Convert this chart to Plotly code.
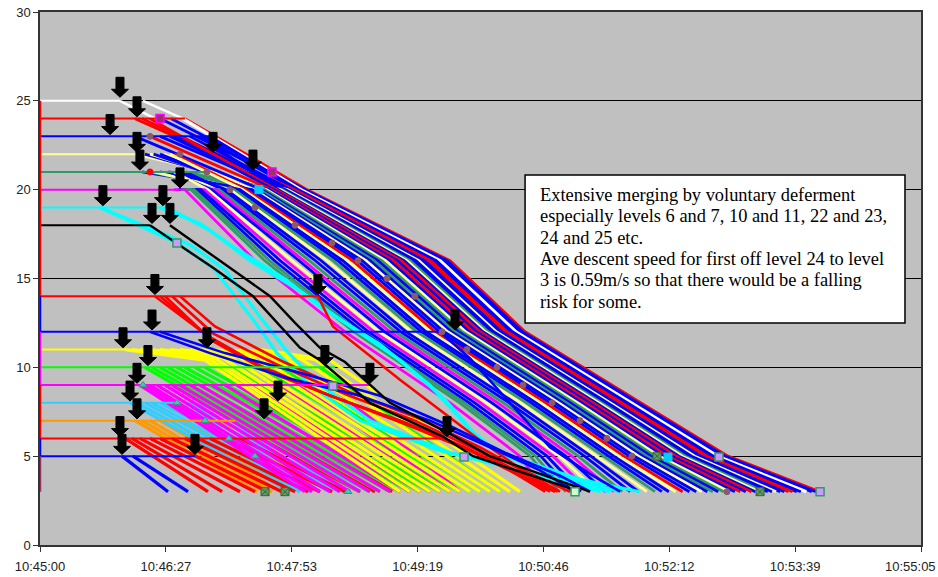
import plotly.graph_objects as go

# ---------------------------------------------------------------------------
# Axis ticks (x values are seconds after 10:45:00)
# ---------------------------------------------------------------------------
TICK_SECONDS = [0, 86.4, 172.8, 259.2, 345.6, 432.0, 518.4, 604.8]
TICK_LABELS = ["10:45:00", "10:46:27", "10:47:53", "10:49:19",
               "10:50:46", "10:52:12", "10:53:39", "10:55:05"]

BLUE = "#0000FF"
RED = "#FF0000"
WHITE = "#FFFFFF"
YELLOW = "#FFFF00"
LIGHTYELLOW = "#FFFF99"
SEAGREEN = "#339966"
MAGENTA = "#FF00FF"
CYAN = "#00FFFF"
LIME = "#00FF00"
SKY = "#33CCFF"
ORANGE = "#FF9900"
BLACK = "#000000"
PLUM = "#993366"

# ---------------------------------------------------------------------------
# Waiting (hold) lines at each level: level, colour, last departure time (s)
# ---------------------------------------------------------------------------
HOLD_LEVELS = [25, 24, 23, 22, 21, 20, 19, 18, 14, 12, 11, 10, 9, 8, 7, 6, 5]
HOLD_COLORS = [WHITE, RED, BLUE, LIGHTYELLOW, SEAGREEN, MAGENTA, CYAN, BLACK,
               RED, BLUE, YELLOW, LIME, MAGENTA, SKY, ORANGE, RED, BLUE]
HOLD_END = [54.9, 99.5, 116.7, 65.2, 114.6, 100.9, 87.2, 75.5,
            190.8, 274.6, 58.4, 202.5, 226.5, 94.0, 133.9, 274.6, 106.4]

# Series starting points stacked on the time-zero edge
EDGE_TOP = [25, 14, 12, 9, 6, 5]
EDGE_BOTTOM = [14, 12, 9, 6, 5, 3]
EDGE_COLORS = [RED, BLUE, MAGENTA, RED, BLUE, PLUM]

# Level 25 leavers stepping down to the level 24 landing
WHITE_LEAD_T = [[54.9, 79.0], [70.7, 98.1]]
WHITE_LEAD_L = [[25, 24], [25, 24]]

# ---------------------------------------------------------------------------
# Upper stream (levels 20-25): time passing levels 20, 16, 12, 8, 5, 3
# ---------------------------------------------------------------------------
UPPER_LEVELS = [20, 16, 12, 8, 5, 3]
UPPER_COLORS = [
    RED, BLUE, BLUE, WHITE, BLUE, BLUE, RED, RED, BLUE, BLUE,
    LIGHTYELLOW, BLUE, BLUE, SEAGREEN, LIGHTYELLOW, BLUE, RED, BLUE, RED,
    BLUE, LIGHTYELLOW, SEAGREEN, BLUE, SEAGREEN, BLUE, LIGHTYELLOW, BLUE,
    BLUE, RED, LIGHTYELLOW, BLUE, BLUE, SEAGREEN, LIGHTYELLOW, BLUE, BLUE,
    SEAGREEN, MAGENTA, BLUE, LIGHTYELLOW, MAGENTA, BLUE, BLUE, SEAGREEN,
    SEAGREEN, MAGENTA,
]
UPPER_START_LEVEL = [
    24, 24, 24, 24, 23, 23, 24, 24, 23, 23,
    22, 23, 23, 21, 22, 23, 24, 23, 23,
    22, 22, 21, 23, 21, 22, 22, 21,
    22, 22, 22, 21, 21, 21, 21, 21, 21,
    20, 20, 21, 21, 20, 20, 20, 20,
    20, 20,
]
UPPER_START_TIME = [
    99.5, 90.0, 82.4, 98.1, 116.7, 110.0, 65.2, 70.0, 103.0, 96.1,
    65.2, 82.4, 89.2, 114.6, 70.0, 110.0, 75.5, 92.0, 75.5,
    72.0, 75.5, 100.0, 65.2, 92.7, 78.0, 85.0, 70.0,
    82.4, 92.0, 89.2, 82.4, 88.0, 75.5, 78.0, 96.1, 100.0,
    96.0, 100.9, 89.2, 92.0, 92.0, 98.0, 95.0, 97.0,
    99.0, 99.5,
]
UPPER_TIMES = [
    [183.3, 281.5, 333.0, 412.6, 472.3, 535.5],
    [182.0, 279.5, 331.1, 410.6, 470.2, 532.6],
    [180.8, 277.5, 329.3, 408.7, 468.0, 529.8],
    [179.1, 274.8, 326.8, 406.0, 465.2, 526.1],
    [177.4, 272.1, 324.3, 403.4, 462.3, 522.3],
    [176.2, 270.1, 322.5, 401.5, 460.2, 519.5],
    [174.9, 268.1, 320.6, 399.5, 458.0, 516.6],
    [173.7, 266.1, 318.8, 397.5, 455.9, 513.8],
    [172.4, 264.1, 316.9, 395.6, 453.7, 511.0],
    [171.1, 262.1, 315.1, 393.6, 451.6, 508.1],
    [169.9, 260.1, 313.2, 391.6, 449.5, 505.3],
    [168.6, 258.1, 311.4, 389.7, 447.3, 502.5],
    [167.4, 256.1, 309.5, 387.7, 445.2, 499.6],
    [166.1, 254.1, 307.7, 385.7, 443.0, 496.8],
    [164.9, 252.0, 305.8, 383.8, 440.9, 494.0],
    [163.6, 250.0, 304.0, 381.8, 438.7, 491.1],
    [162.4, 248.0, 302.1, 379.8, 436.6, 488.3],
    [160.7, 245.4, 299.6, 377.2, 433.7, 484.5],
    [159.0, 242.7, 297.2, 374.6, 430.9, 480.8],
    [157.3, 240.0, 294.7, 372.0, 428.0, 477.0],
    [155.6, 237.3, 292.2, 369.3, 425.2, 473.2],
    [154.0, 234.6, 289.7, 366.7, 422.3, 469.4],
    [152.3, 232.0, 287.3, 364.1, 419.5, 465.6],
    [150.6, 229.3, 284.8, 361.5, 416.6, 461.9],
    [148.9, 226.6, 282.3, 358.9, 413.8, 458.1],
    [147.3, 223.9, 279.9, 356.2, 410.9, 454.3],
    [145.6, 221.2, 277.4, 353.6, 408.0, 450.5],
    [143.5, 217.9, 274.3, 350.3, 404.5, 445.8],
    [141.4, 214.6, 271.2, 347.1, 400.9, 441.1],
    [139.3, 211.2, 268.1, 343.8, 397.3, 436.4],
    [137.2, 207.9, 265.0, 340.5, 393.8, 431.7],
    [135.1, 204.5, 261.9, 337.2, 390.2, 426.9],
    [133.0, 201.2, 258.8, 333.9, 386.6, 422.2],
    [130.5, 197.1, 255.1, 330.0, 382.3, 416.6],
    [128.0, 193.1, 251.4, 326.1, 378.1, 410.9],
    [125.5, 189.1, 247.7, 322.1, 373.8, 405.2],
    [123.0, 185.1, 244.0, 318.2, 369.5, 399.6],
    [120.5, 181.1, 240.3, 314.3, 365.2, 393.9],
    [117.9, 177.9, 236.6, 310.3, 360.9, 388.2],
    [115.4, 173.0, 232.9, 306.4, 356.6, 382.6],
    [112.9, 169.0, 229.2, 302.5, 352.3, 376.9],
    [110.4, 165.0, 225.5, 298.5, 348.1, 371.2],
    [107.9, 161.0, 221.8, 294.6, 343.8, 365.6],
    [105.8, 157.6, 218.7, 291.3, 340.2, 360.9],
    [103.7, 154.3, 215.6, 288.1, 336.6, 356.1],
    [99.5, 147.6, 209.4, 281.5, 329.5, 346.7],
]

# ---------------------------------------------------------------------------
# Middle stream: levels 18/19 (black, cyan), 14 (red), 12 (blue)
# ---------------------------------------------------------------------------
BLACK_T = [[75.5, 118.8, 146.2, 162.7, 178.5, 192.2, 226.5, 276.7, 297.3, 370.7],
           [89.2, 130.4, 157.9, 175.1, 192.2, 209.4, 240.3, 284.9, 308.9, 377.6]]
BLACK_L = [[18.0, 15.6, 14.0, 12.5, 11.1, 10.4, 8.0, 6.1, 5.0, 3.0],
           [18.0, 15.6, 14.0, 12.5, 11.1, 10.3, 8.0, 6.1, 5.0, 3.0]]

CYAN_T = [[41.2, 94.0, 118.8, 146.2, 162.7, 185.4, 219.7, 274.6, 329.5, 384.4],
          [41.2, 103.0, 127.0, 152.4, 169.6, 192.2, 226.5, 281.5, 336.4, 391.3],
          [82.4, 109.8, 132.5, 169.6, 192.2, 233.4, 267.7, 295.2, 315.8, 357.0, 398.2],
          [87.2, 116.7, 144.2, 178.5, 205.9, 247.1, 278.0, 302.0, 322.6, 370.7, 411.9]]
CYAN_L = [[19.0, 17.0, 15.6, 12.7, 10.8, 9.0, 7.0, 5.3, 4.2, 3.0],
          [19.0, 16.9, 15.5, 12.7, 10.9, 9.0, 7.0, 5.2, 4.1, 3.0],
          [19.0, 18.1, 16.8, 14.9, 13.4, 11.3, 9.0, 6.5, 5.1, 3.9, 3.0],
          [19.0, 17.7, 16.0, 14.3, 12.7, 10.4, 8.2, 5.9, 5.0, 3.7, 3.0]]

RED14_T = [[78.9, 114.6, 151.0, 199.1, 247.1, 288.3, 322.6, 346.7],
           [82.4, 116.0, 154.5, 202.5, 250.5, 291.7, 326.0, 350.1],
           [85.8, 118.1, 157.9, 205.9, 254.0, 295.2, 329.5, 353.5],
           [90.6, 119.0, 161.4, 209.4, 257.4, 298.6, 331.2, 355.2],
           [96.1, 120.1, 164.8, 212.8, 260.9, 302.0, 332.9, 357.0],
           [190.8, 201.1, 247.1, 274.6, 302.0, 329.5, 363.8]]
RED14_L = [[14.0, 11.8, 10.1, 8.4, 7.0, 5.6, 4.2, 3.0],
           [14.0, 11.7, 9.9, 8.3, 6.9, 5.5, 4.1, 3.0],
           [14.0, 11.5, 9.7, 8.2, 6.7, 5.3, 3.9, 3.0],
           [14.0, 11.9, 10.2, 8.5, 7.0, 5.4, 4.0, 3.0],
           [14.0, 12.3, 10.4, 8.6, 7.1, 5.5, 4.1, 3.0],
           [14.0, 12.3, 9.3, 7.6, 5.9, 4.3, 3.0]]

BLUE12_T = [[75.5, 116.7, 169.6, 219.7, 267.7, 308.9, 343.2, 367.3],
            [82.4, 127.0, 178.5, 233.4, 281.5, 319.2, 357.0, 377.6],
            [274.6, 295.2, 322.6, 350.1, 377.6, 398.2]]
BLUE12_L = [[12.0, 10.8, 9.4, 8.4, 7.0, 5.5, 4.2, 3.0],
            [12.0, 10.8, 9.7, 8.4, 6.7, 5.2, 3.9, 3.0],
            [12.0, 10.5, 8.0, 5.5, 4.0, 3.0]]

# ---------------------------------------------------------------------------
# Lower stream (levels 5-10): departure time at the level, arrival at level 3
# (listed in drawing order: later entries are drawn on top)
# ---------------------------------------------------------------------------
FAN_LEVELS = [7, 8, 6, 5, 10, 9]
FAN_COLORS = [ORANGE, SKY, RED, BLUE, LIME, MAGENTA]
FAN_START = [
    [65.2, 70.0, 75.5, 82.4, 89.2, 99.5, 109.8, 122.2, 133.9],
    [61.8, 66.6, 72.1, 76.9, 82.4, 87.9, 94.0, 101.6, 109.8],
    [58.4, 63.1, 68.6, 75.5, 82.4, 90.6, 99.5, 108.5, 116.7, 127.0, 137.3,
     151.0, 164.8, 181.9, 199.1],
    [56.3, 63.8],
    [72.1, 76.9, 82.4, 87.9, 94.0, 99.5, 106.4, 113.3, 121.5, 130.4, 140.7,
     151.0, 164.8, 178.5, 192.2],
    [68.6, 72.1, 75.5, 80.3, 85.8, 90.6, 96.1, 103.0, 109.8, 118.1, 127.0,
     135.2, 144.2, 154.5, 164.8, 178.5, 199.1],
]
FAN_END = [
    [149.0, 154.5, 159.3, 165.5, 171.6, 178.5, 185.4, 192.2, 199.1],
    [171.6, 178.5, 185.4, 192.2, 199.1, 205.9, 212.8, 219.7, 226.5],
    [115.3, 125.0, 137.3, 147.6, 156.5, 166.1, 175.1, 184.0, 192.2, 200.5,
     209.4, 219.7, 230.0, 241.7, 254.0],
    [87.9, 101.6],
    [219.7, 226.5, 233.4, 240.3, 247.1, 254.0, 260.9, 267.7, 274.6, 281.5,
     288.3, 295.2, 302.0, 308.9, 315.8],
    [181.9, 186.8, 192.2, 199.1, 205.9, 212.8, 219.7, 226.5, 233.4, 240.3,
     247.1, 254.0, 260.9, 267.7, 274.6, 281.5, 288.3],
]

# Level 11 (yellow): slow start along the landing, then the descent
YELLOW_T = [[58.4, 113.3, 247.1], [63.1, 116.7, 254.0], [68.6, 120.1, 260.9],
            [75.5, 124.9, 267.7], [82.4, 130.4, 274.6], [89.2, 135.9, 281.5],
            [96.1, 144.2, 288.3], [103.0, 149.7, 295.2], [109.8, 157.9, 302.0],
            [118.1, 168.2, 308.9], [127.0, 178.5, 315.8], [137.3, 188.8, 322.6],
            [151.0, 199.1, 329.5]]
YELLOW_L = [[11, 10.4, 3], [11, 10.45, 3], [11, 10.5, 3], [11, 10.55, 3],
            [11, 10.6, 3], [11, 10.6, 3], [11, 10.6, 3], [11, 10.6, 3],
            [11, 10.6, 3], [11, 10.55, 3], [11, 10.5, 3], [11, 10.45, 3],
            [11, 10.4, 3]]

# ---------------------------------------------------------------------------
# Individual series markers
# ---------------------------------------------------------------------------
PLUM_T = [75.5, 96.1, 114.6, 130.4, 147.6, 175.1, 200.5, 218.3, 238.2, 257.4,
          276.0, 293.1, 313.7, 331.6, 351.5, 370.7, 389.2, 406.4, 471.6]
PLUM_L = [23, 22, 21, 20, 19, 18, 17, 16, 15, 14, 12, 11, 10, 9, 8, 7, 6, 5, 3]
LAVENDER_T = [94.0, 201.1, 291.1, 466.1, 535.5]
LAVENDER_L = [17.0, 8.95, 4.95, 4.95, 3.0]
PURPLE_SQ_T = [82.4, 159.3]
PURPLE_SQ_L = [24.0, 21.0]
CYAN_SQ_T = [150.3, 431.1]
CYAN_SQ_L = [20.0, 4.95]
XMARK_T = [154.5, 168.2, 423.6, 494.3]
XMARK_L = [3.0, 3.0, 5.0, 3.0]
PALE_SQ_T = [367.3]
PALE_SQ_L = [3.0]
TRI_T = [70.7, 94.0, 113.3, 129.7, 147.6, 211.4]
TRI_L = [9, 8, 7, 6, 5, 3]
RED_DOT_T = [75.5]
RED_DOT_L = [21]

# First-off / deferment arrows (tip position)
ARROW_T = [54.9, 66.6, 48.1, 66.6, 68.6, 118.8, 146.2, 96.1, 84.4, 43.2,
           76.9, 89.2, 78.9, 190.8, 76.9, 284.9, 57.0, 114.6, 74.1, 195.6,
           66.6, 226.5, 61.8, 163.4, 66.6, 153.8, 54.9, 279.4, 56.3, 106.4]
ARROW_L = [25.2, 24.1, 23.1, 22.1, 21.1, 22.1, 21.1, 20.1, 19.1, 19.1,
           18.1, 18.1, 14.1, 14.1, 12.1, 12.1, 11.1, 11.1, 10.1, 10.1,
           9.1, 9.1, 8.1, 8.1, 7.1, 7.1, 6.1, 6.1, 5.1, 5.1]

NOTE_LINES = [
    "Extensive merging by voluntary deferment",
    "especially levels 6 and 7, 10 and 11, 22 and 23,",
    "24 and 25 etc.",
    "Ave descent speed for first off level 24 to level",
    "3 is 0.59m/s so that there would be a falling",
    "risk for some.",
]
NOTE_LINE_Y = [19.70, 18.50, 17.30, 16.10, 14.90, 13.70]

fig = go.Figure()


def add_path(xs, ys, color, width):
    fig.add_trace(go.Scatter(x=xs, y=ys, mode="lines",
                             line=dict(color=color, width=width),
                             hoverinfo="skip"))


# lower stream
for lvl, col, starts, ends in zip(FAN_LEVELS, FAN_COLORS, FAN_START, FAN_END):
    for s, e in zip(starts, ends):
        add_path([s, e], [lvl, 3], col, 3.3)
for xs, ys in zip(YELLOW_T, YELLOW_L):
    add_path(xs, ys, YELLOW, 3.3)

# upper stream
for xs, ys in zip(WHITE_LEAD_T, WHITE_LEAD_L):
    add_path(xs, ys, WHITE, 2.4)
for col, sl, st, times in zip(UPPER_COLORS, UPPER_START_LEVEL,
                              UPPER_START_TIME, UPPER_TIMES):
    add_path([st] + times, [sl] + UPPER_LEVELS, col, 3.2 if col == WHITE else 2.8)

# middle stream
for xs, ys in zip(CYAN_T, CYAN_L):
    add_path(xs, ys, CYAN, 3.2)
for xs, ys in zip(RED14_T, RED14_L):
    add_path(xs, ys, RED, 2.6)
for xs, ys in zip(BLUE12_T, BLUE12_L):
    add_path(xs, ys, BLUE, 2.6)

# landings
for lvl, col, end in zip(HOLD_LEVELS, HOLD_COLORS, HOLD_END):
    add_path([0, end], [lvl, lvl], col, 2)
for top, bot, col in zip(EDGE_TOP, EDGE_BOTTOM, EDGE_COLORS):
    add_path([0, 0], [top, bot], col, 2.5)

for xs, ys in zip(BLACK_T, BLACK_L):
    add_path(xs, ys, BLACK, 2.4)


def add_markers(xs, ys, symbol, size, fill, edge, edge_w=1):
    fig.add_trace(go.Scatter(x=xs, y=ys, mode="markers", hoverinfo="skip",
                             marker=dict(symbol=symbol, size=size, color=fill,
                                         line=dict(color=edge, width=edge_w))))


add_markers(PLUM_T, PLUM_L, "circle", 6, "#8C5A6E", "#8C5A6E")
add_markers(RED_DOT_T, RED_DOT_L, "circle", 6, RED, RED)
add_markers(TRI_T, TRI_L, "triangle-up", 7, "#33CCCC", SEAGREEN)
add_markers(LAVENDER_T, LAVENDER_L, "square", 8, "#CC99FF", SEAGREEN, 1.5)
add_markers(PURPLE_SQ_T, PURPLE_SQ_L, "square", 8, "#993366", MAGENTA, 1.5)
add_markers(CYAN_SQ_T, CYAN_SQ_L, "square", 8, "#00CCFF", "#00CCFF")
add_markers(PALE_SQ_T, PALE_SQ_L, "square", 8, "#CCFFCC", SEAGREEN, 1.5)
add_markers(XMARK_T, XMARK_L, "square-x", 8, "#669966", "#336633", 1)

# block arrows, sized in screen pixels with the tip on the anchor point
ARROW_PATH = "M0,0 L-8.5,8 L-4,8 L-4,20 L4,20 L4,8 L8.5,8 Z"
shapes = []
for t, lv in zip(ARROW_T, ARROW_L):
    shapes.append(dict(type="path", xref="x", yref="y",
                       xsizemode="pixel", ysizemode="pixel",
                       xanchor=t, yanchor=lv, path=ARROW_PATH,
                       fillcolor="black", line=dict(color="black", width=1)))

# note box
shapes.append(dict(type="rect", xref="x", yref="y", x0=333.0, x1=593.8,
                   y0=12.5, y1=20.82, fillcolor="white",
                   line=dict(color="black", width=1.5)))

note_font = dict(family="Liberation Serif, Times New Roman, serif",
                 size=18.4, color="black")
annotations = [dict(xref="x", yref="y", x=341.9, y=ly, xanchor="left",
                    yanchor="middle", text=txt, showarrow=False,
                    font=note_font)
               for txt, ly in zip(NOTE_LINES, NOTE_LINE_Y)]

axis_font = dict(family="Liberation Sans, Arial", size=13, color="#222222")
# the last time label sits flush with the right edge of the chart
annotations.append(dict(xref="paper", yref="paper", x=1.0193, y=-0.040,
                        xanchor="right", yanchor="middle", showarrow=False,
                        text=TICK_LABELS[-1], font=axis_font))

fig.update_layout(
    width=938, height=577,
    margin=dict(l=40, r=17, t=12, b=32, autoexpand=False),
    paper_bgcolor="white", plot_bgcolor="#C0C0C0",
    showlegend=False,
    shapes=shapes,
    annotations=annotations,
    xaxis=dict(range=[0, 604.8], tickvals=TICK_SECONDS,
               ticktext=TICK_LABELS[:-1] + [""],
               ticks="outside", ticklen=5, tickcolor="#333333",
               ticklabelstandoff=4, automargin=False,
               showgrid=False, zeroline=False, showline=True,
               linecolor="#333333", linewidth=1.5, mirror=True,
               tickfont=axis_font),
    yaxis=dict(range=[0, 30], dtick=5, ticks="outside", ticklen=5,
               tickcolor="#333333", showgrid=True, gridcolor="black",
               gridwidth=1, zeroline=False, showline=True, automargin=False,
               linecolor="#333333", linewidth=1.5, mirror=True,
               tickfont=axis_font),
)

fig.write_html("out.html")
